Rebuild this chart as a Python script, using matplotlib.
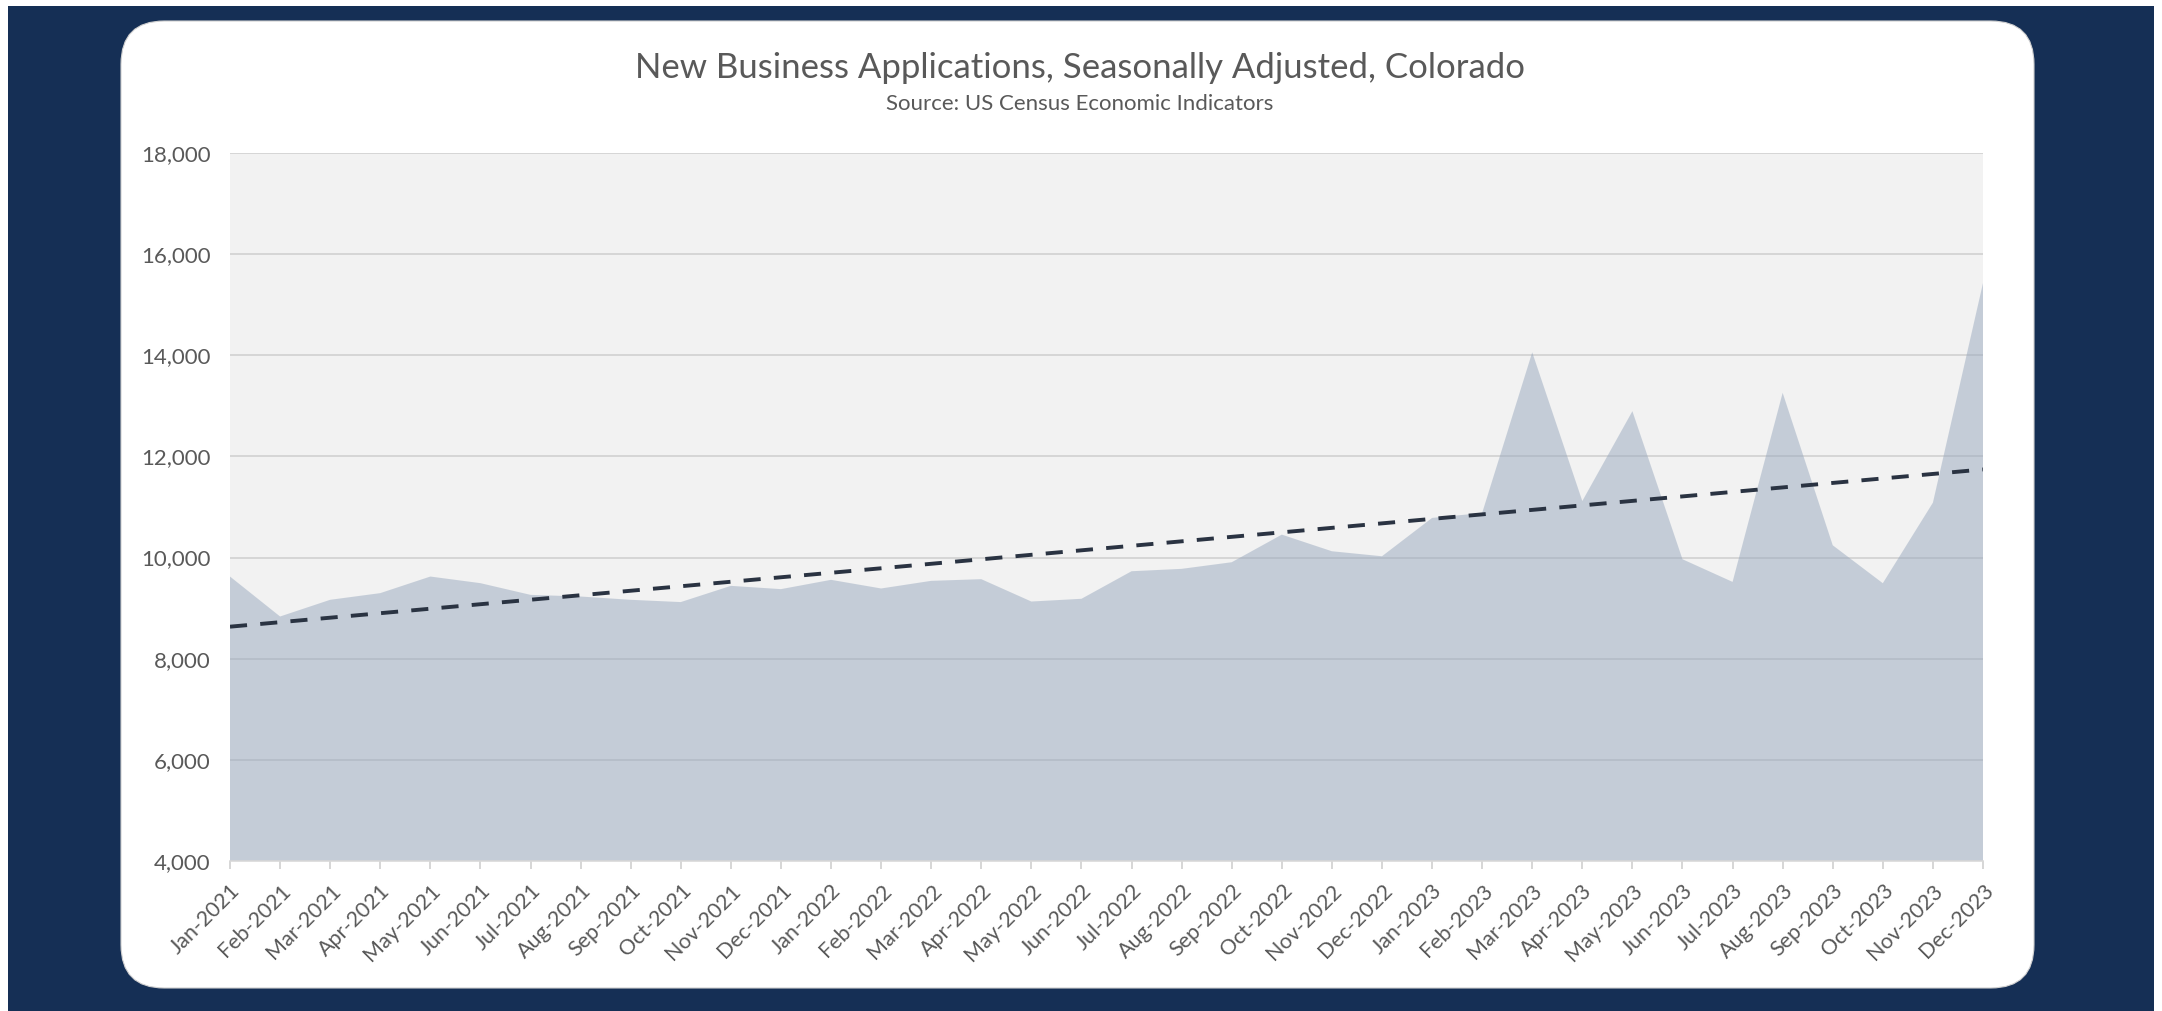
import numpy as np
import matplotlib.pyplot as plt
from matplotlib.patches import Rectangle, FancyBboxPatch
from matplotlib.ticker import FuncFormatter

months = ['Jan', 'Feb', 'Mar', 'Apr', 'May', 'Jun',
          'Jul', 'Aug', 'Sep', 'Oct', 'Nov', 'Dec']
years = [2021, 2022, 2023]
labels = [f'{m}-{y}' for y in years for m in months]

# monthly new business applications, seasonally adjusted
apps_2021 = [9625, 8835, 9165, 9297, 9625, 9494, 9263, 9230, 9165, 9120, 9441, 9376]
apps_2022 = [9560, 9389, 9540, 9573, 9131, 9185, 9730, 9777, 9908, 10454, 10125, 10026]
apps_2023 = [10784, 10882, 14059, 11118, 12895, 9967, 9519, 13258, 10243, 9493, 11086, 15429]
apps = np.array(apps_2021 + apps_2022 + apps_2023)

W, H = 2162, 1011
NAVY = '#152f55'
GREY_TXT = '#595959'
plt.rcParams['font.family'] = ['Lato', 'DejaVu Sans']

fig = plt.figure(figsize=(W / 100, H / 100), dpi=100, facecolor='white')

# dark backdrop and the white card on top of it
fig.patches.append(Rectangle((8 / W, 0), (2154 - 8) / W, (H - 6) / H,
                             transform=fig.transFigure, facecolor=NAVY,
                             edgecolor='none', zorder=0))
fig.patches.append(FancyBboxPatch((121 / W, (H - 988) / H), (2034 - 121) / W, (988 - 21) / H,
                                  boxstyle='round,pad=0,rounding_size=0.02',
                                  mutation_aspect=W / H,
                                  transform=fig.transFigure, facecolor='white',
                                  edgecolor='#d0d0d0', linewidth=0.8, zorder=1))

ax = fig.add_axes([230 / W, (H - 861) / H, (1983 - 230) / W, (861 - 153) / H], zorder=2)
ax.set_facecolor('#f2f2f2')

x = np.arange(len(apps))
ax.fill_between(x, 4000, apps, facecolor='#98a8be', alpha=0.5, linewidth=0, zorder=2)

# linear trend over the whole period
coef = np.polyfit(x, apps, 1)
ax.plot(x, np.polyval(coef, x), color='#2a3342', linewidth=2.8,
        linestyle=(0, (4.4, 3.4)), zorder=3)

ax.set_xlim(0, len(apps) - 1)
ax.set_ylim(4000, 18000)
ax.set_yticks(np.arange(4000, 18001, 2000))
ax.yaxis.set_major_formatter(FuncFormatter(lambda v, p: f'{int(v):,}'))
ax.set_xticks(x)
ax.set_xticklabels(labels, rotation=45, ha='right', rotation_mode='anchor')

ax.grid(axis='y', color='#d6d6d6', linewidth=1.4, zorder=1)
ax.set_axisbelow(True)
for side in ['top', 'right', 'left']:
    ax.spines[side].set_visible(False)
ax.spines['bottom'].set_color('#d9d9d9')
ax.spines['bottom'].set_linewidth(1.2)

ax.tick_params(axis='y', length=0, pad=14, labelsize=16, labelcolor=GREY_TXT)
ax.tick_params(axis='x', length=6, width=1.2, color='#d0d0d0', pad=8,
               labelsize=15.5, labelcolor=GREY_TXT)

fig.text(1080 / W, 1 - 68 / H, 'New Business Applications, Seasonally Adjusted, Colorado',
         ha='center', va='center', fontsize=25, color=GREY_TXT, zorder=3)
fig.text(1080 / W, 1 - 104 / H, 'Source: US Census Economic Indicators',
         ha='center', va='center', fontsize=16, color=GREY_TXT, zorder=3)

fig.savefig('out.png', dpi=100, facecolor='white')
